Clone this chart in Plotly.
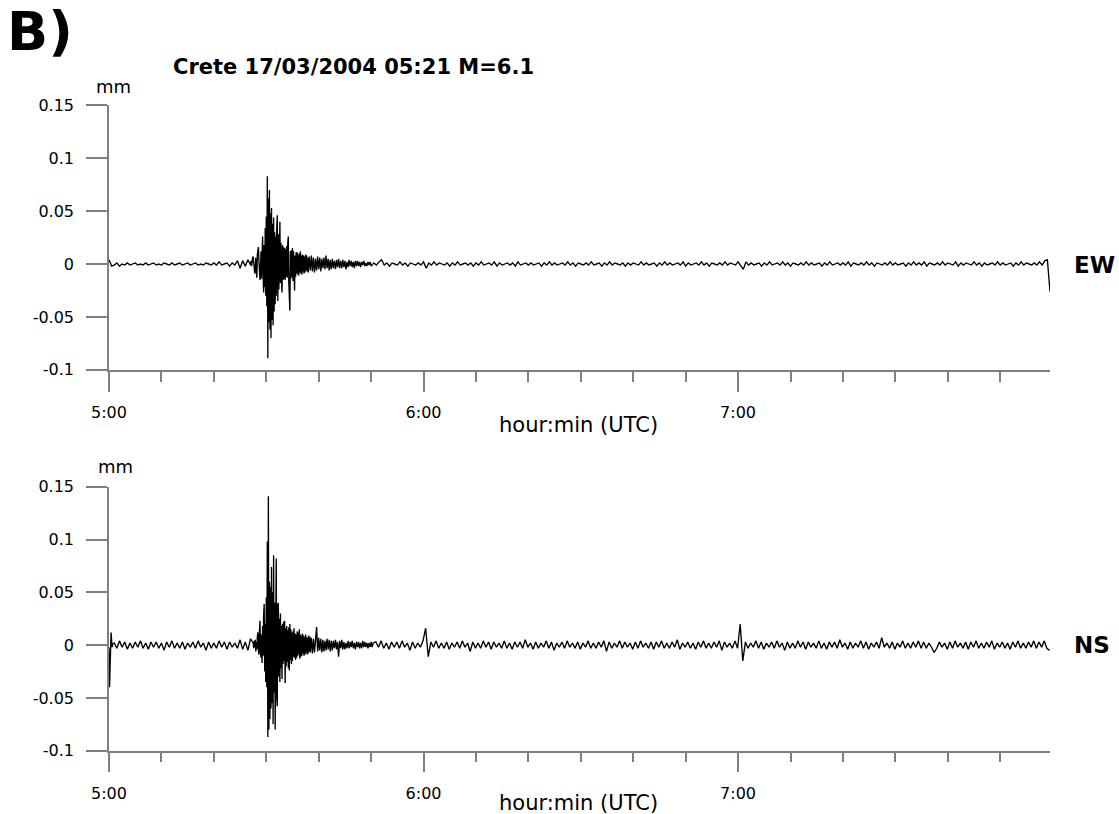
import plotly.graph_objects as go

# ---------------------------------------------------------------------------
# Ground displacement recorded after the Crete earthquake, 17/03/2004.
# Time is in minutes after 05:00 UTC, amplitudes in micrometres (0.001 mm).
# Each component is stored in pieces with their own start time and sample step:
# a coarse step for the quiet parts and a fine step for the strong shaking.
# ---------------------------------------------------------------------------

# ---- East-West component ----
EW_PRE_START, EW_PRE_STEP = 0.0, 0.5
EW_PRE = [4, -2, -1, 1, -2, 0, -1, 1, -1, 0,
          1, -1, 0, -1, 1, -1, 0, 1, -1, 0,
          -1, 1, 0, -1, 1, -1, 0, 1, -1, 0,
          1, -1, 0, 1, -1, 0, -1, 1, 0, -1,
          1, -1, 2, -1, 0, 1, -2, 1, -1, 3,
          -4, 3, -2, 4, -1]

EW_CORE_START, EW_CORE_STEP = 27.1, 0.1
EW_CORE = [3, -2, 5, 6, 7, 1, -5, -9, -4, 6,
           -8, -13, 9, 14, 16, 3, -10, -15, -5, 12,
           -14, 20, 26, -10, -27, 18, -22, 34, -30, 45,
           -40, 83, -89, 62, -55, 70, -62, 48, -70, 53,
           -53, 38, -58, 44, -45, 30, -38, 26, -30, 34,
           46, -35, 28, -24, 22, 40, -18, 20, -16, -27,
           18, -15, 16, -14, 15, -15, 14, -12, 17, -13,
           20, 26, -18, -30, -44, 12, -14, 13, -12, 15,
           -16, 12, -18, -25, 8, -12, 11, -9, 11, -10,
           9, -11, 10, -8, 12, -9, 8, -10, 9, -7,
           8, -9, 7, -8, 9, -6, 8, -7, 6, -8]

EW_CODA_START, EW_CODA_STEP = 38.2, 0.2
EW_CODA = [7, -6, 8, -7, 6, -8, 5, -6, 7, -5,
           6, -7, 5, -4, 6, -5, 8, -4, 5, -6,
           4, -5, 5, -4, 3, -5, 4, -3, 5, -4,
           3, -4, 4, -3, 3, -5, 2, -3, 4, -2,
           3, -3, 2, -4, 3, -2, 3, -2, 2, -3,
           2, -1, 3, -2, 1, -2, 2, -1, 2, -2]

EW_TAIL_START, EW_TAIL_STEP = 50.5, 0.5
EW_TAIL = [1, -1, 2, 4, -1, 1, -2, 1, 0, -1, 2, -1, 1, -2, 1, 0, -1, 1, -1, 2,
           -4, 1, -1, 2, -1, 1, 0, -1, 1, -2, 1, -1, 2, -1, 0, 1, -1, 1, -2, 1,
           -1, 2, -1, 0, 1, -1, 2, -2, 1, -1, 0, 1, -1, 1, -2, 2, -1, 0, 1, -1,
           1, -1, 0, 1, -2, 1, -1, 2, -1, 1, -1, 0, 1, -1, 2, -1, 1, -2, 1, 0,
           -1, 1, -1, 2, -1, 0, 1, -2, 1, -1, 2, -1, 1, 0, -1, 1, -2, 1, -1, 1,
           0, -1, 2, -1, 1, -1, 0, 1, -2, 1, -1, 2, -1, 1, -1, 0, 1, -1, 2, -2,
           1, -1, 0, 1, -1, 2, -1, 1, -2, 1, 0, -1, 1, -1, 2, -1, 1, 0, -1, 2,
           -2, -5, 2, -1, 1, -1, 0, 1, -2, 1, -1, 2, -1, 0, 1, -1, 2, -1, 1, -2,
           1, 0, -1, 1, -1, 2, -1, 1, -1, 0, 1, -2, 1, -1, 2, -1, 0, 1, -1, 1,
           -1, 2, -2, 1, 0, -1, 1, -1, 2, -1, 1, -2, 1, 0, -1, 1, -1, 2, -1, 1,
           -1, 0, 1, -2, 1, -1, 2, -1, 1, -1, 2, -2, 1, 0, -1, 1, -1, 2, -1, 1,
           0, -1, 2, -2, 1, -1, 1, 0, -1, 2, -1, 1, -2, 1, -1, 0, 1, -1, 2, -1,
           1, -1, 0, 1, -2, 1, -1, 2, -1, 1, 0, -1, 1, -1, 2, -1, 3, 4, -26]

# ---- North-South component ----
NS_HEAD_START, NS_HEAD_STEP = 0.0, 0.1
NS_HEAD = [-2, -40, -22, -6, 12, 4, -2, 1]

NS_PRE_START, NS_PRE_STEP = 1.0, 0.5
NS_PRE = [2, -3, 4, -2, 3, -4, 2, -3, 3, -2,
          4, -3, 2, -4, 3, -2, 3, -3, 2, -5,
          3, -2, 4, -3, 2, -3, 3, -4, 2, -2,
          3, -3, 4, -2, 2, -5, 3, -3, 2, -3,
          4, -2, 3, -4, 3, -2, 2, -3, 5, -4,
          3, -5, 6]

NS_CORE_START, NS_CORE_STEP = 27.5, 0.1
NS_CORE = [2, -3, 4, -2, 5, -6, 3, -4, 8, 12,
           -5, -9, 14, 23, -8, -12, 10, -17, 18, -10,
           28, 39, -25, 20, -35, 45, -40, 98, -87, 141,
           -80, 60, -70, 55, -60, 74, -55, 50, -75, 85,
           -45, 40, -80, 60, 82, -50, -58, 38, 40, -30,
           25, -35, 30, -22, 18, -32, 20, -18, 22, -15,
           23, -36, 16, -20, 18, -16, 14, -22, 17, -24,
           20, -14, 15, -18, 12, -15, 13, -11, 16, -12,
           11, -14, 10, -12, 13, -10, 12, -9, 15, -13,
           10, -11, 9, -10, 11, -8, 9, -10, 8, -9,
           10, -7, 8, -9, 7, -8, 9, -6, 8, -7]

NS_CODA_START, NS_CODA_STEP = 38.6, 0.2
NS_CODA = [7, -8, 6, -7, 5, 17, -6, 7, -5, 6,
           -7, 5, -6, 4, -5, 6, -4, 5, -6, 4,
           -5, 4, -3, 5, -4, 3, -11, 4, -3, 5,
           -4, 3, -4, 2, -3, 4, -3, 3, -2, 4,
           -3, 2, -4, 3, -2, 3, -3, 2, -3, 4,
           -2, 3, -2, 2, -3, 2, -2, 3, -2, 2]

NS_TAIL_START, NS_TAIL_STEP = 50.9, 0.5
NS_TAIL = [3, -2, 4, -3, 2, -4, 3, -2, 3, -3, 4, -2, 2, -5, 3, -3, 2, -2, 4, 16,
           -11, 3, -2, 4, -3, 2, -3, 3, -4, 2, -2, 3, -3, 4, -2, 2, -6, 3, -3, 2,
           -3, 4, -2, 3, -4, 3, -2, 2, -3, 4, -3, 2, -4, 3, -2, 3, -3, 5, -2, 2,
           -4, 3, -3, 2, -2, 4, -3, 3, -5, 2, -2, 3, -3, 4, -2, 2, -3, 3, -4, 2,
           -2, 4, -3, 2, -3, 3, -2, 4, -6, 3, -3, 2, -2, 4, -3, 3, -2, 2, -4, 3,
           -3, 4, -2, 2, -3, 3, -4, 3, -2, 4, -3, 2, -3, 3, -2, 5, -4, 2, -2, 3,
           -3, 2, -4, 3, -2, 4, -3, 2, -3, 3, -2, 4, -5, 3, -2, 2, -3, 4, -3, 20,
           -15, 3, -3, 2, -2, 4, -3, 3, -4, 2, -2, 3, -3, 4, -2, 2, -5, 3, -3, 2,
           -3, 4, -2, 3, -4, 3, -2, 2, -3, 4, -3, 2, -4, 3, -2, 3, -3, 5, -2, 2,
           -4, 3, -3, 2, -2, 4, -3, 3, -4, 2, -2, 3, -3, 7, -2, 2, -3, 3, -4, 2,
           -2, 4, -3, 2, -3, 3, -2, 4, -3, 3, -3, 2, -2, -7, -3, 3, -2, 2, -4, 3,
           -3, 4, -2, 2, -3, 3, -4, 3, -2, 4, -3, 2, -3, 3, -2, 4, -4, 2, -2, 3,
           -3, 2, -4, 3, -2, 4, -3, 2, -3, 3, -2, 4, -3, 3, -2, 4, -3, -5]

# ---- Axis definitions ----
TIME_RANGE = [0, 179.5]
HOUR_TICKS = [0, 60, 120]
HOUR_LABELS = ["5:00", "6:00", "7:00"]
AMP_RANGE = [-0.1, 0.15]
AMP_TICKS = [-0.1, -0.05, 0, 0.05, 0.1, 0.15]
AMP_LABELS = ["-0.1", "-0.05", "0", "0.05", "0.1", "0.15"]

TITLE = "Crete 17/03/2004 05:21 M=6.1"
PANEL_TAG = "B)"
X_TITLE = "hour:min (UTC)"
UNIT = "mm"


def build_trace(segments):
    """Concatenate (start, step, values) pieces into time / mm arrays."""
    t, v = [], []
    for start, step, values in segments:
        t.extend(start + step * i for i in range(len(values)))
        v.extend(val * 0.001 for val in values)
    return t, v


ew_t, ew_v = build_trace([
    (EW_PRE_START, EW_PRE_STEP, EW_PRE),
    (EW_CORE_START, EW_CORE_STEP, EW_CORE),
    (EW_CODA_START, EW_CODA_STEP, EW_CODA),
    (EW_TAIL_START, EW_TAIL_STEP, EW_TAIL),
])
ns_t, ns_v = build_trace([
    (NS_HEAD_START, NS_HEAD_STEP, NS_HEAD),
    (NS_PRE_START, NS_PRE_STEP, NS_PRE),
    (NS_CORE_START, NS_CORE_STEP, NS_CORE),
    (NS_CODA_START, NS_CODA_STEP, NS_CODA),
    (NS_TAIL_START, NS_TAIL_STEP, NS_TAIL),
])

W, H = 1119, 814
FONT = "DejaVu Sans"
GREY = "#808080"


def px(x, y):
    return x / W, 1 - y / H


fig = go.Figure()
fig.add_trace(go.Scatter(x=ew_t, y=ew_v, mode="lines", xaxis="x", yaxis="y",
                         line=dict(color="black", width=1.35), showlegend=False))
fig.add_trace(go.Scatter(x=ns_t, y=ns_v, mode="lines", xaxis="x2", yaxis="y2",
                         line=dict(color="black", width=1.35), showlegend=False))

x_dom = [109 / W, 1050 / W]
top_dom = [1 - 369.8 / H, 1 - 105.3 / H]
bot_dom = [1 - 750.7 / H, 1 - 486.7 / H]


def xaxis_cfg(anchor):
    return dict(
        domain=x_dom, range=TIME_RANGE, anchor=anchor, automargin=False,
        showline=True, linecolor=GREY, linewidth=1.5,
        showgrid=False, zeroline=False,
        tickmode="array", tickvals=HOUR_TICKS, ticktext=HOUR_LABELS,
        ticks="outside", ticklen=20, tickwidth=1.5, tickcolor=GREY,
        ticklabelstandoff=7,
        tickfont=dict(family=FONT, size=16, color="black"),
        minor=dict(tickmode="linear", tick0=0, dtick=10, ticks="outside",
                   ticklen=10, tickwidth=1.5, tickcolor=GREY, showgrid=False),
    )


def yaxis_cfg(anchor, dom):
    return dict(
        domain=dom, range=AMP_RANGE, anchor=anchor, automargin=False,
        showline=True, linecolor=GREY, linewidth=1.5,
        showgrid=False, zeroline=False,
        tickmode="array", tickvals=AMP_TICKS, ticktext=AMP_LABELS,
        ticks="outside", ticklen=21, tickwidth=1.5, tickcolor=GREY,
        ticklabelstandoff=9,
        tickfont=dict(family=FONT, size=16, color="black"),
    )


annotations = []


def note(text, x, y, size, bold=False, xanchor="center"):
    ax, ay = px(x, y)
    annotations.append(dict(
        text=f"<b>{text}</b>" if bold else text, x=ax, y=ay,
        xref="paper", yref="paper", xanchor=xanchor, yanchor="middle",
        showarrow=False, font=dict(family=FONT, size=size, color="black")))


note(PANEL_TAG, 40, 32, 54, bold=True)
note(TITLE, 353, 67, 21, bold=True)
note(UNIT, 113, 86, 18)
note(UNIT, 115, 466, 18)
note(X_TITLE, 578, 425, 21)
note(X_TITLE, 578, 803, 21)
note("EW", 1072, 265, 23, bold=True, xanchor="left")
note("NS", 1072, 645, 23, bold=True, xanchor="left")

fig.update_layout(
    width=W, height=H, autosize=False,
    margin=dict(l=0, r=0, t=0, b=0, autoexpand=False),
    paper_bgcolor="white", plot_bgcolor="white",
    xaxis=xaxis_cfg("y"), yaxis=yaxis_cfg("x", top_dom),
    xaxis2=xaxis_cfg("y2"), yaxis2=yaxis_cfg("x2", bot_dom),
    annotations=annotations,
)

fig.write_html("out.html")
